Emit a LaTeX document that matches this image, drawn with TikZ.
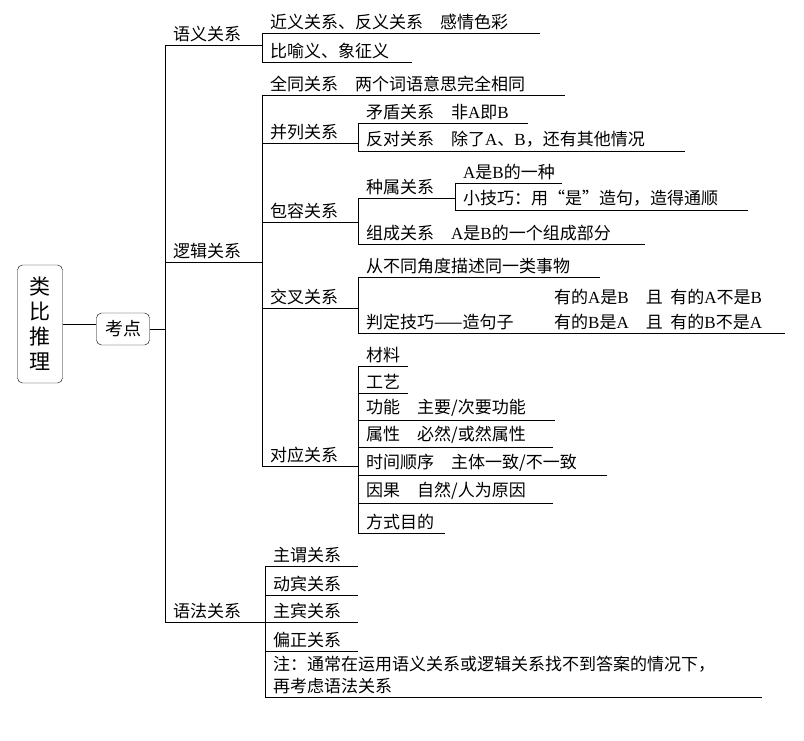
\documentclass[tikz,border=0pt]{standalone}
\usepackage{fontspec}
\setmainfont{Noto Sans CJK SC}
\newfontfamily\latinf{Liberation Serif}
\newcommand\la[1]{{\latinf #1}}
\usetikzlibrary{positioning}
\tikzset{
  txt/.style={anchor=south west, inner sep=1pt, font=\fontsize{17}{22}\selectfont},
  box/.style={draw, rounded corners=5pt, font=\fontsize{18}{22}\selectfont, align=center},
  branch/.style={line width=0.8pt}
}
% \leaf{name}{x start}{y of line}{x end}{text}
\newcommand\leaf[5]{%
  \coordinate (#1-s) at (#2,#3);
  \coordinate (#1-e) at (#4,#3);
  \node[txt] (#1) at ($(#1-s)+(7,-2)$) {#5};
  \draw[branch] (#1-s) -- (#1-e);
}
\usetikzlibrary{calc}
\begin{document}
\begin{tikzpicture}[x=1pt,y=-1pt]
    \useasboundingbox (0,0) rectangle (804,741);

    % root and center
    \node[box, minimum width=45, minimum height=118, inner sep=2pt, font=\fontsize{21}{24}\selectfont] (root) at (40,324) {类\\[1pt]比\\[1pt]推\\[1pt]理};
    \node[box, minimum width=53, minimum height=32, inner sep=2pt] (kd) at (123,329) {考点};
    \draw[branch] (root.east) -- (kd.west |- root.east);
    \coordinate (hub) at (165,329);
    \draw[branch] (kd.east |- hub) -- (hub);

    % level 1
    \leaf{yy}{165}{45}{262}{语义关系}
    \leaf{lj}{165}{262}{262}{逻辑关系}
    \leaf{yf}{165}{622}{265}{语法关系}
    \draw[branch] (yy-s) -- (yf-s);

    % 语义关系
    \leaf{jy}{262}{33}{540}{近义关系、反义关系\quad 感情色彩}
    \leaf{by}{262}{62}{412}{比喻义、象征义}
    \draw[branch] (jy-s) -- (by-s);

    % 逻辑关系
    \leaf{qt}{262}{95}{565}{全同关系\quad 两个词语意思完全相同}
    \leaf{bl}{262}{143}{358}{并列关系}
    \leaf{br}{262}{222}{358}{包容关系}
    \leaf{jc}{262}{308}{358}{交叉关系}
    \leaf{dy}{262}{466}{358}{对应关系}
    \draw[branch] (qt-s) -- (dy-s);

    % 并列关系
    \leaf{md}{358}{123}{528}{矛盾关系\quad 非\la{A}即\la{B}}
    \leaf{fd}{358}{151}{685}{反对关系\quad 除了\la{A}、\la{B}，还有其他情况}
    \draw[branch] (md-s) -- (fd-s);

    % 包容关系
    \leaf{zs}{358}{198}{455}{种属关系}
    \leaf{zc}{358}{244}{645}{组成关系\quad \la{A}是\la{B}的一个组成部分}
    \draw[branch] (zs-s) -- (zc-s);
    \leaf{yz}{455}{183}{562}{\la{A}是\la{B}的一种}
    \leaf{xj}{455}{210}{748}{小技巧：用“是”造句，造得通顺}
    \draw[branch] (yz-s) -- (xj-s);

    % 交叉关系
    \leaf{cb}{358}{277}{600}{从不同角度描述同一类事物}
    \leaf{pd}{358}{333}{785}{判定技巧——造句子}
    \node[txt] (pd2) at (553,331) {有的\la{B}是\la{A}\quad 且\ \ 有的\la{B}不是\la{A}};
    \node[txt] (pd1) at (553,306) {有的\la{A}是\la{B}\quad 且\ \ 有的\la{A}不是\la{B}};
    \draw[branch] (cb-s) -- (pd-s);

    % 对应关系
    \leaf{cl}{358}{366}{408}{材料}
    \leaf{gy}{358}{393}{408}{工艺}
    \leaf{gn}{358}{420}{555}{功能\quad 主要/次要功能}
    \leaf{sx}{358}{447}{553}{属性\quad 必然/或然属性}
    \leaf{sj}{358}{475}{607}{时间顺序\quad 主体一致/不一致}
    \leaf{yg}{358}{503}{553}{因果\quad 自然/人为原因}
    \leaf{fs}{358}{533}{445}{方式目的}
    \draw[branch] (cl-s) -- (fs-s);

    % 语法关系
    \leaf{zw}{265}{566}{358}{主谓关系}
    \leaf{db}{265}{595}{358}{动宾关系}
    \leaf{zb}{265}{622}{358}{主宾关系}
    \leaf{pz}{265}{651}{358}{偏正关系}
    \coordinate (zhu-s) at (265,697);
    \coordinate (zhu-e) at (762,697);
    \node[txt, align=left] (zhu) at ($(zhu-s)+(7,-2)$) {注：通常在运用语义关系或逻辑关系找不到答案的情况下，\\再考虑语法关系};
    \draw[branch] (zhu-s) -- (zhu-e);
    \draw[branch] (zw-s) -- (zhu-s);
\end{tikzpicture}
\end{document}
